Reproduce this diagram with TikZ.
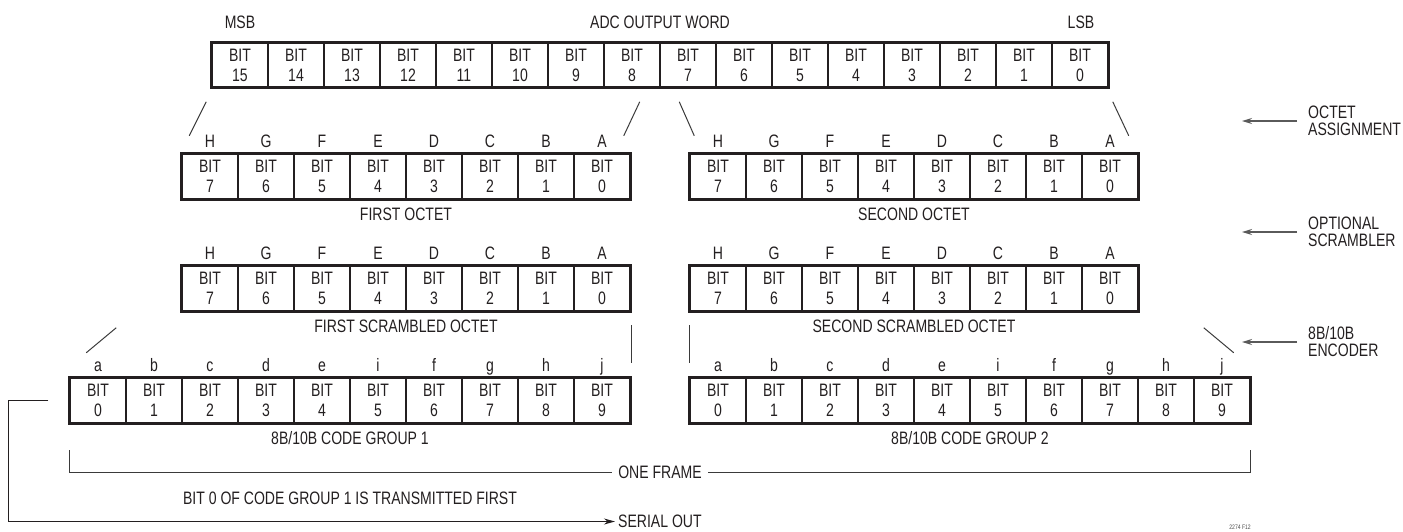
\documentclass[tikz,border=0pt]{standalone}
\usepackage{fontspec}
\setmainfont{Liberation Sans}[FakeStretch=0.78]
\usepackage{tikz}
\usetikzlibrary{arrows.meta,calc,positioning}
\definecolor{ink}{HTML}{231F20}
\definecolor{wire}{HTML}{3A3A3A}
\definecolor{pointer}{HTML}{5A5A5A}

\tikzset{
  bitcell/.style={draw=ink,line width=1.5pt,minimum width=56pt,minimum height=44pt,
    inner sep=0pt,align=center,font=\fontsize{18}{20}\selectfont},
  bitframe/.style={draw=ink,line width=2.6pt},
  tag/.style={font=\fontsize{18}{20}\selectfont,inner sep=0pt,anchor=base},
  caption/.style={font=\fontsize{18}{20}\selectfont,inner sep=0pt},
  sidenote/.style={caption,align=left,anchor=west,font=\fontsize{18}{17}\selectfont},
  fanline/.style={draw=wire,line width=1pt},
  sidearrow/.style={draw=pointer,line width=1.3pt,-{Stealth[length=10pt,width=6pt]}},
}

\begin{document}
\begin{tikzpicture}[x=1pt,y=-1pt,text=ink]
  \useasboundingbox (0,0) rectangle (1403,531);

  % ADC output word
  \foreach \i in {0,...,15}{
    \pgfmathtruncatemacro{\b}{15-\i}
    \node[bitcell] (w\i) at (240+56*\i,65) {BIT\\\b};
  }
  \draw[bitframe] (w0.north west) rectangle (w15.south east);
  \node[caption] (msb) at (240,22) {MSB};
  \node[caption] (adc) at (660,22) {ADC OUTPUT WORD};
  \node[caption] (lsb) at (1081,22) {LSB};

  % octets, plain and scrambled
  \foreach \lt [count=\i from 0] in {H,G,F,E,D,C,B,A}{
    \pgfmathtruncatemacro{\b}{7-\i}
    \node[bitcell] (fo\i) at (210+56*\i,176.5) {BIT\\\b};
    \node[bitcell] (so\i) at (718+56*\i,176.5) {BIT\\\b};
    \node[bitcell] (fs\i) at (210+56*\i,288.5) {BIT\\\b};
    \node[bitcell] (ss\i) at (718+56*\i,288.5) {BIT\\\b};
    \node[tag] (folt\i) at ($(fo\i.north)+(0,-6)$) {\lt};
    \node[tag] (solt\i) at ($(so\i.north)+(0,-6)$) {\lt};
    \node[tag] (fslt\i) at ($(fs\i.north)+(0,-6)$) {\lt};
    \node[tag] (sslt\i) at ($(ss\i.north)+(0,-6)$) {\lt};
  }
  \draw[bitframe] (fo0.north west) rectangle (fo7.south east);
  \draw[bitframe] (so0.north west) rectangle (so7.south east);
  \draw[bitframe] (fs0.north west) rectangle (fs7.south east);
  \draw[bitframe] (ss0.north west) rectangle (ss7.south east);
  \node[caption] (fotxt) at ($(fo0.south west)!0.5!(fo7.south east)+(0,15)$) {FIRST OCTET};
  \node[caption] (sotxt) at ($(so0.south west)!0.5!(so7.south east)+(0,15)$) {SECOND OCTET};
  \node[caption] (fstxt) at ($(fs0.south west)!0.5!(fs7.south east)+(0,15)$) {FIRST SCRAMBLED OCTET};
  \node[caption] (sstxt) at ($(ss0.south west)!0.5!(ss7.south east)+(0,15)$) {SECOND SCRAMBLED OCTET};

  % 8B/10B code groups
  \foreach \lt [count=\i from 0] in {a,b,c,d,e,i,f,g,h,j}{
    \node[bitcell] (ga\i) at (98+56*\i,400.5) {BIT\\\i};
    \node[bitcell] (gb\i) at (718+56*\i,400.5) {BIT\\\i};
    \node[tag] (galt\i) at ($(ga\i.north)+(0,-6)$) {\lt};
    \node[tag] (gblt\i) at ($(gb\i.north)+(0,-6)$) {\lt};
  }
  \draw[bitframe] (ga0.north west) rectangle (ga9.south east);
  \draw[bitframe] (gb0.north west) rectangle (gb9.south east);
  \node[caption] (gatxt) at ($(ga0.south west)!0.5!(ga9.south east)+(0,15)$) {8B/10B CODE GROUP 1};
  \node[caption] (gbtxt) at ($(gb0.south west)!0.5!(gb9.south east)+(0,15)$) {8B/10B CODE GROUP 2};

  % fan lines between the rows
  \draw[fanline] ($(w0.south west)+(-5,14)$) -- ($(fo0.north west)+(8,-18)$);
  \draw[fanline] ($(w7.south east)+(-21,14)$) -- ($(fo7.north east)+(-7,-18)$);
  \draw[fanline] ($(w8.south west)+(20,14)$) -- ($(so0.north west)+(5,-18)$);
  \draw[fanline] ($(w15.south east)+(4,14)$) -- ($(so7.north east)+(-10,-18)$);
  \draw[fanline] ($(fs7.south east)+(1,14)$) -- ($(fs7.south east)+(1,52)$);
  \draw[fanline] ($(ss0.south west)+(0,14)$) -- ($(ss0.south west)+(0,52)$);
  \draw[fanline] ($(ga0.north west)+(47,-50)$) -- ($(ga0.north west)+(17,-25)$);
  \draw[fanline] ($(gb9.north east)+(-47,-50)$) -- ($(gb9.north east)+(-17,-25)$);

  % stage notes on the right
  \node[sidenote] (octasg) at (1308,121) {OCTET\\ASSIGNMENT};
  \node[sidenote] (scram) at (1308,232) {OPTIONAL\\SCRAMBLER};
  \node[sidenote] (enc) at (1308,342) {8B/10B\\ENCODER};
  \coordinate (octtip) at (1242,121);
  \coordinate (scramtip) at (1242,232);
  \coordinate (enctip) at (1242,342);
  \draw[sidearrow] ([xshift=-11pt]octasg.west) -- (octtip);
  \draw[sidearrow] ([xshift=-11pt]scram.west) -- (scramtip);
  \draw[sidearrow] ([xshift=-11pt]enc.west) -- (enctip);

  % frame bracket
  \node[caption] (frame) at (660,472.5) {ONE FRAME};
  \draw[fanline] ($(ga0.south west)+(0,27)$) |- ([xshift=-6pt]frame.west);
  \draw[fanline] ($(gb9.south east)+(0,27)$) |- ([xshift=6pt]frame.east);
  \node[caption] (firstnote) at (350,498) {BIT 0 OF CODE GROUP 1 IS TRANSMITTED FIRST};

  % serial output
  \node[caption,anchor=west] (serial) at (618,521.5) {SERIAL OUT};
  \coordinate (serstart) at ($(ga0.west)+(-21,0)$);
  \draw[draw=ink,line width=1pt,-{Stealth[length=11pt,width=6pt]}]
    (serstart) -- ++(-40,0) |- ([xshift=-3pt]serial.west);

  \node[font=\fontsize{6.5}{7}\selectfont,inner sep=0pt,anchor=base east,text=black!70] (figno) at (1251,529) {2274 F12};
\end{tikzpicture}
\end{document}
